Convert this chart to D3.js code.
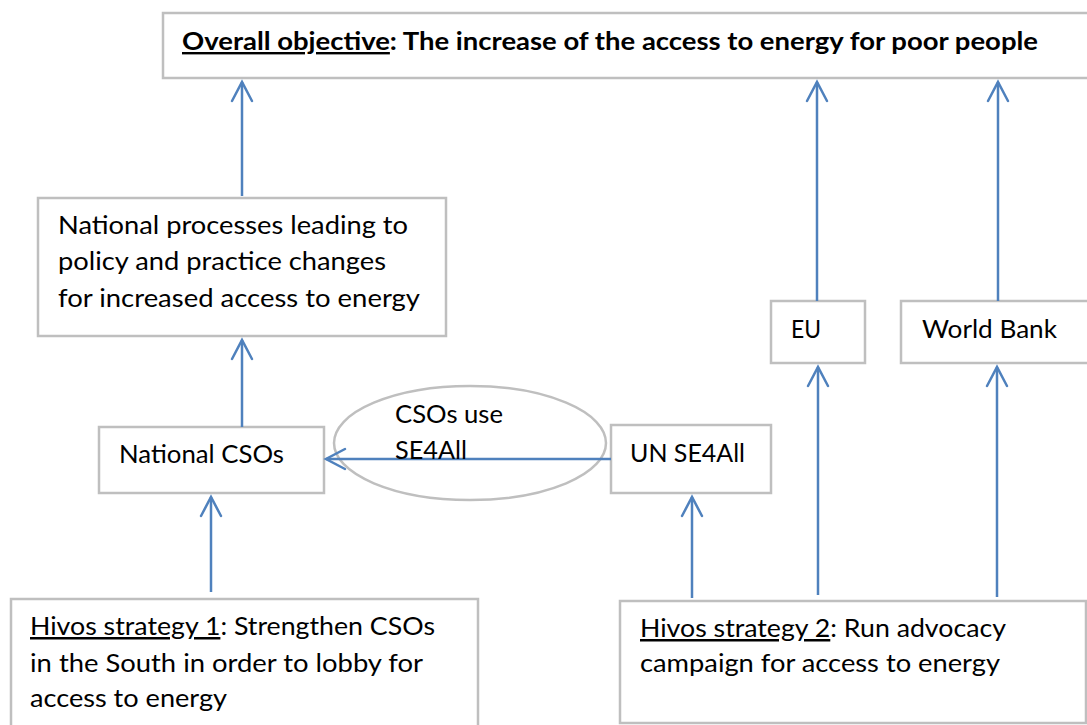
<!DOCTYPE html>
<html>
<head>
<meta charset="utf-8">
<script src="https://cdn.jsdelivr.net/npm/d3@7"></script>
<style>
  body { margin: 0; background: #fff; }
  svg { display: block; }
  text { font-family: Lato, "Open Sans", sans-serif; fill: #000; }
</style>
</head>
<body>
<svg id="chart"></svg>
<script>
// Diagram content: each label line is a list of [text, underlined] runs
const nodeIds = ["goal", "national", "csos", "unse4all", "eu", "worldbank", "strategy1", "strategy2"];
const nodeLabels = {
  goal: [[["Overall objective", true], [": The increase of the access to energy for poor people", false]]],
  national: [[["National processes leading to", false]], [["policy and practice changes", false]], [["for increased access to energy", false]]],
  csos: [[["National CSOs", false]]],
  unse4all: [[["UN SE4All", false]]],
  eu: [[["EU", false]]],
  worldbank: [[["World Bank", false]]],
  strategy1: [[["Hivos strategy 1", true], [": Strengthen CSOs", false]], [["in the South in order to lobby for", false]], [["access to energy", false]]],
  strategy2: [[["Hivos strategy 2", true], [": Run advocacy", false]], [["campaign for access to energy", false]]],
};
const bubbleLabel = ["CSOs use", "SE4All"];
const links = [
  ["national", "goal"], ["eu", "goal"], ["worldbank", "goal"],
  ["csos", "national"], ["unse4all", "csos"], ["strategy1", "csos"],
  ["strategy2", "unse4all"], ["strategy2", "eu"], ["strategy2", "worldbank"],
];

// Layout
const W = 1087, H = 725;
const boxes = {
  goal:      { x0: 163, y0: 13,  x1: 1100, y1: 78,  tx: 182, ty: [50],            tw: [856], size: 24, bold: true },
  national:  { x0: 38,  y0: 198, x1: 446,  y1: 336, tx: 58,  ty: [234, 270, 307], tw: [350, 328, 362] },
  csos:      { x0: 99,  y0: 427, x1: 324,  y1: 493, tx: 119, ty: [463],           tw: [165] },
  unse4all:  { x0: 611, y0: 425, x1: 771,  y1: 493, tx: 630, ty: [462],           tw: [115] },
  eu:        { x0: 771, y0: 301, x1: 865,  y1: 363, tx: 791, ty: [338],           tw: [30] },
  worldbank: { x0: 901, y0: 301, x1: 1100, y1: 363, tx: 922, ty: [338],           tw: [135] },
  strategy1: { x0: 11,  y0: 599, x1: 478,  y1: 760, tx: 30,  ty: [635, 672, 707], tw: [405, 393, 197] },
  strategy2: { x0: 620, y0: 601, x1: 1086, y1: 723, tx: 640, ty: [637, 672],      tw: [366, 360] },
};
const bubble = { cx: 470, cy: 443, rx: 136, ry: 57, tx: 395, ty: [423, 459], tw: [108, 72] };
// anchor along the edge, and gap left before the source box
const linkLayout = [
  { x: 242, gap: 2 }, { x: 817, gap: 0 }, { x: 998, gap: 0 },
  { x: 242, gap: 0 }, { y: 459, gap: 0 }, { x: 211, gap: 7 },
  { x: 692, gap: 3 }, { x: 818, gap: 6 }, { x: 997, gap: 4 },
];

const boxStroke = "#bfbfbf";
const arrowColor = "#4f81bd";

const svg = d3.select("#chart").attr("width", W).attr("height", H);

// boxes
svg.append("g")
  .selectAll("rect")
  .data(nodeIds)
  .join("rect")
  .attr("x", (d) => boxes[d].x0)
  .attr("y", (d) => boxes[d].y0)
  .attr("width", (d) => boxes[d].x1 - boxes[d].x0)
  .attr("height", (d) => boxes[d].y1 - boxes[d].y0)
  .attr("fill", "#fff")
  .attr("stroke", boxStroke)
  .attr("stroke-width", 2.5);

// ellipse
svg.append("ellipse")
  .attr("cx", bubble.cx)
  .attr("cy", bubble.cy)
  .attr("rx", bubble.rx)
  .attr("ry", bubble.ry)
  .attr("fill", "none")
  .attr("stroke", boxStroke)
  .attr("stroke-width", 2.5);

// arrows
const arrows = svg.append("g")
  .attr("fill", "none")
  .attr("stroke", arrowColor)
  .attr("stroke-width", 2.5)
  .attr("stroke-linecap", "round");
links.forEach(([s, t], i) => {
  const src = boxes[s], tgt = boxes[t], l = linkLayout[i];
  let line, head;
  if (l.y !== undefined) {
    // horizontal, right to left
    const x0 = src.x0 - l.gap, x1 = tgt.x1 + 2;
    line = d3.path(); line.moveTo(x0, l.y); line.lineTo(x1, l.y);
    head = d3.path(); head.moveTo(x1 + 19, l.y - 10); head.lineTo(x1, l.y); head.lineTo(x1 + 19, l.y + 10);
  } else {
    const y0 = src.y0 - l.gap, y1 = tgt.y1 + 4;
    line = d3.path(); line.moveTo(l.x, y0); line.lineTo(l.x, y1);
    head = d3.path(); head.moveTo(l.x - 10, y1 + 19); head.lineTo(l.x, y1); head.lineTo(l.x + 10, y1 + 19);
  }
  arrows.append("path").attr("d", line.toString()).attr("stroke-linecap", "butt");
  arrows.append("path").attr("d", head.toString()).attr("stroke-linejoin", "miter");
});

// labels
const drawLines = (lines, b) => {
  lines.forEach((runs, i) => {
    const t = svg.append("text")
      .attr("x", b.tx)
      .attr("y", b.ty[i])
      .attr("font-size", b.size || 25)
      .attr("font-weight", b.bold ? "bold" : "normal")
      .attr("textLength", b.tw[i])
      .attr("lengthAdjust", "spacingAndGlyphs");
    runs.forEach(([txt, ul]) => {
      t.append("tspan")
        .style("text-decoration", ul ? "underline" : "none")
        .text(txt);
    });
  });
};
nodeIds.forEach((id) => drawLines(nodeLabels[id], boxes[id]));
drawLines(bubbleLabel.map((s) => [[s, false]]), bubble);
</script>
</body>
</html>
